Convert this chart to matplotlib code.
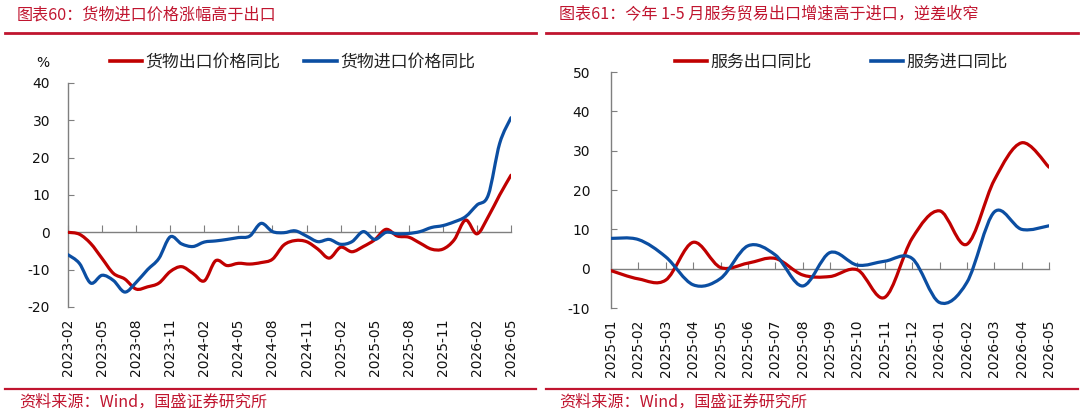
import matplotlib
matplotlib.use("Agg")
import matplotlib.pyplot as plt
import numpy as np
from matplotlib.path import Path
from matplotlib.patches import PathPatch
from matplotlib.lines import Line2D

plt.rcParams['font.family'] = ['DejaVu Sans', 'Noto Sans CJK SC']

# ---------------- data ----------------
left_title = "图表60：货物进口价格涨幅高于出口"
right_title = "图表61：今年 1-5 月服务贸易出口增速高于进口，逆差收窄"
source_text = "资料来源：Wind，国盛证券研究所"

left_labels = ["2023-02", "2023-05", "2023-08", "2023-11", "2024-02", "2024-05",
               "2024-08", "2024-11", "2025-02", "2025-05", "2025-08", "2025-11",
               "2026-02", "2026-05"]
left_series_names = ["货物出口价格同比", "货物进口价格同比"]
export_price = [0.0, -0.5, -3.0, -7.0, -11.0, -12.5, -15.2, -14.6, -13.6, -10.5,
                -9.2, -11.0, -13.0, -7.6, -8.9, -8.3, -8.5, -8.1, -7.2, -3.4,
                -2.2, -2.5, -4.5, -6.9, -4.0, -5.2, -3.8, -2.0, 0.8, -1.0,
                -1.3, -2.9, -4.5, -4.5, -2.0, 3.3, -0.4, 4.2, 10.0, 15.3]
import_price = [-6.0, -8.3, -13.6, -11.5, -12.9, -16.0, -13.4, -10.0, -7.0, -1.2,
                -3.1, -3.8, -2.6, -2.3, -1.9, -1.4, -1.0, 2.4, 0.2, -0.1,
                0.4, -1.0, -2.5, -1.9, -3.2, -2.5, 0.2, -1.9, 0.0, -0.4,
                -0.3, 0.2, 1.3, 1.8, 2.8, 4.2, 7.3, 10.0, 23.8, 30.7]

right_labels = ["2025-01", "2025-02", "2025-03", "2025-04", "2025-05", "2025-06",
                "2025-07", "2025-08", "2025-09", "2025-10", "2025-11", "2025-12",
                "2026-01", "2026-02", "2026-03", "2026-04", "2026-05"]
right_series_names = ["服务出口同比", "服务进口同比"]
service_export = [-0.5, -2.6, -2.9, 6.7, 0.3, 1.4, 2.6, -1.6, -2.0, -0.3,
                  -7.3, 7.7, 14.7, 6.2, 22.5, 32.0, 25.8]
service_import = [7.7, 7.4, 3.0, -4.1, -2.5, 5.8, 3.5, -4.4, 4.1, 0.9,
                  1.9, 2.6, -8.6, -3.5, 14.4, 10.0, 10.9]

RED = '#C00000'
BLUE = '#0B4EA2'
TITLE_RED = '#C0152F'
GRAY = '#7F7F7F'

W, H = 1080, 412
fig = plt.figure(figsize=(W / 100, H / 100), dpi=100)


def fx(px):
    return px / W


def fy(py):
    return 1 - py / H


def smooth_patch(ax, y, color):
    y = np.asarray(y, dtype=float)
    x = np.arange(len(y), dtype=float)
    pts = np.column_stack([x, y])
    n = len(pts)
    verts = [pts[0]]
    codes = [Path.MOVETO]
    for i in range(n - 1):
        p0 = pts[max(i - 1, 0)]
        p1 = pts[i]
        p2 = pts[i + 1]
        p3 = pts[min(i + 2, n - 1)]
        c1 = p1 + (p2 - p0) / 6.0
        c2 = p2 - (p3 - p1) / 6.0
        verts += [c1, c2, p2]
        codes += [Path.CURVE4] * 3
    patch = PathPatch(Path(verts, codes), fill=False, edgecolor=color, lw=2.3,
                      capstyle='round', joinstyle='round', zorder=3)
    ax.add_patch(patch)


def setup_axes(rect, ylim, yticks, xlabels, tick_idx, label_idx, ypad):
    ax = fig.add_axes(rect)
    ax.set_ylim(*ylim)
    ax.set_yticks(yticks)
    ax.set_yticklabels([str(v) for v in yticks])
    for s in ['top', 'right']:
        ax.spines[s].set_visible(False)
    ax.spines['left'].set_color(GRAY)
    ax.spines['left'].set_linewidth(1.0)
    ax.spines['bottom'].set_position(('data', 0))
    ax.spines['bottom'].set_color(GRAY)
    ax.spines['bottom'].set_linewidth(1.0)
    ax.tick_params(axis='y', direction='in', length=4, color=GRAY, labelsize=10,
                   pad=ypad, labelcolor='#111111')
    ax.tick_params(axis='x', direction='in', length=5, color=GRAY, labelbottom=False)
    ax.set_xticks(tick_idx)
    sec = ax.secondary_xaxis('bottom')
    sec.set_xticks(label_idx, labels=xlabels)
    sec.tick_params(length=0, pad=8.5, labelsize=10, labelrotation=90, labelcolor='#111111')
    sec.spines['bottom'].set_visible(False)
    return ax


legend_prop = {'family': ['Noto Sans CJK SC'], 'size': 12.2, 'weight': 'light'}

# ---------------- left chart ----------------
nL = len(export_price)
axL = setup_axes([fx(68), fy(307), fx(511) - fx(68), fy(83) - fy(307)],
                 (-20, 40), [-20, -10, 0, 10, 20, 30, 40], left_labels,
                 list(range(0, nL, 3)), list(range(0, nL, 3)), 13)
axL.set_xlim(0, nL - 1)
smooth_patch(axL, export_price, RED)
smooth_patch(axL, import_price, BLUE)
fig.text(fx(43), fy(63), "%", ha='center', va='center', fontsize=10, color='#111111')

hL = [Line2D([], [], color=RED, lw=2.6), Line2D([], [], color=BLUE, lw=2.6)]
fig.legend(hL, left_series_names, loc='center left', bbox_to_anchor=(fx(110), fy(62)),
           ncol=2, frameon=False, borderpad=0, borderaxespad=0, handlelength=1.9,
           handletextpad=0.2, columnspacing=1.4, prop=legend_prop, labelcolor='#222222')

# ---------------- right chart ----------------
nR = len(service_export)
axR = setup_axes([fx(611), fy(308), fx(1049) - fx(611), fy(72) - fy(308)],
                 (-10, 50), [-10, 0, 10, 20, 30, 40, 50], right_labels,
                 list(range(0, nR)), list(range(0, nR)), 15)
axR.set_xlim(0, nR - 1)
smooth_patch(axR, service_export, RED)
smooth_patch(axR, service_import, BLUE)

hR = [Line2D([], [], color=RED, lw=2.6), Line2D([], [], color=BLUE, lw=2.6)]
fig.legend(hR, right_series_names, loc='center left', bbox_to_anchor=(fx(675), fy(62)),
           ncol=2, frameon=False, borderpad=0, borderaxespad=0, handlelength=1.9,
           handletextpad=0.2, columnspacing=3.5, prop=legend_prop, labelcolor='#222222')

# ---------------- titles, rules, sources ----------------
cjk = ['Noto Sans CJK SC', 'DejaVu Sans']
fig.text(fx(17), fy(15), left_title, ha='left', va='center', fontsize=11.6,
         color=TITLE_RED, family=cjk)
fig.text(fx(559), fy(15), right_title, ha='left', va='center', fontsize=11.6,
         color=TITLE_RED, family=cjk)
for x0, x1 in [(5, 536), (546, 1078)]:
    fig.add_artist(Line2D([fx(x0), fx(x1)], [fy(33), fy(33)], transform=fig.transFigure,
                          color=TITLE_RED, lw=2.0))
    fig.add_artist(Line2D([fx(x0), fx(x1)], [fy(389), fy(389)], transform=fig.transFigure,
                          color=TITLE_RED, lw=1.6))
fig.text(fx(19), fy(402), source_text, ha='left', va='center', fontsize=11.6,
         color=TITLE_RED, family=cjk)
fig.text(fx(559), fy(402), source_text, ha='left', va='center', fontsize=11.6,
         color=TITLE_RED, family=cjk)

fig.savefig("out.png", dpi=100)
